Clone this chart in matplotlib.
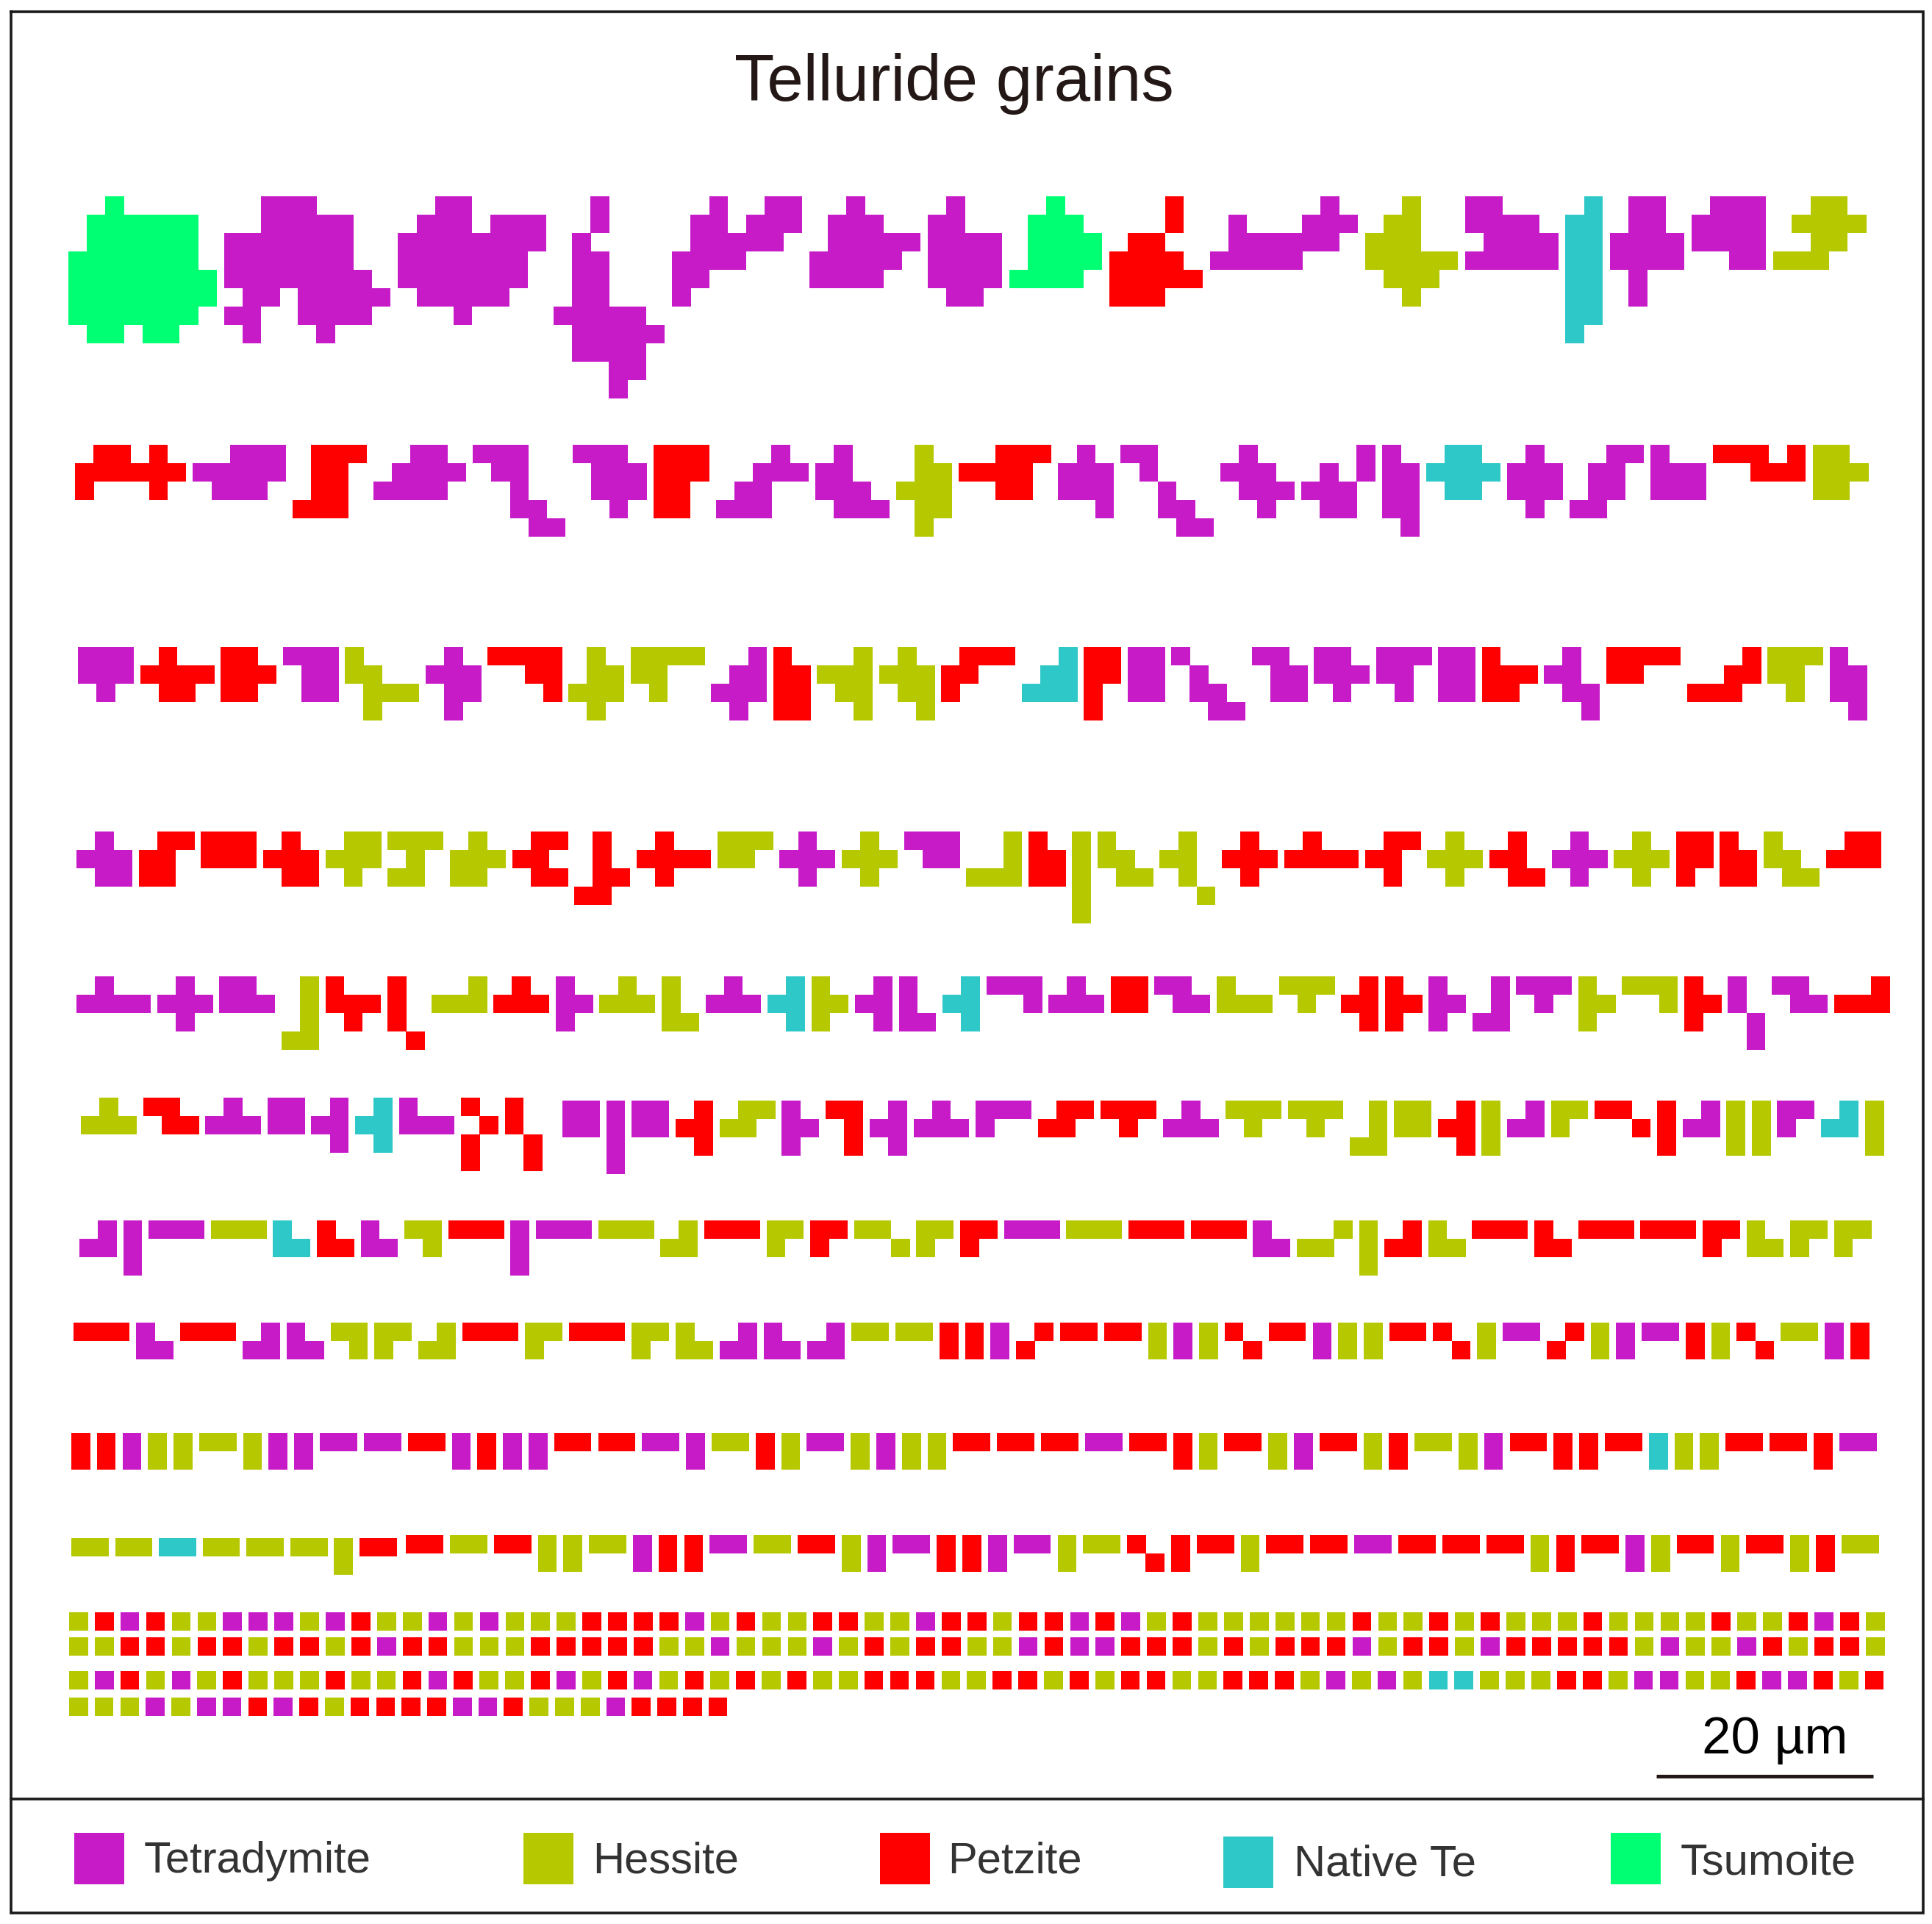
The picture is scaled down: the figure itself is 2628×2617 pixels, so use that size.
import matplotlib
matplotlib.use("Agg")
import matplotlib.pyplot as plt

plt.rcParams['font.family'] = ['Liberation Sans', 'DejaVu Sans']

TITLE = "Telluride grains"
SCALE_LABEL = "20 µm"
MINERALS = ["Tetradymite", "Hessite", "Petzite", "Native Te", "Tsumoite"]
MINERAL_KEYS = ["T", "H", "P", "N", "S"]

# each grain: mineral key, then its pixel map, rows split by "/"
ROW_01 = [
 "S:..#...../.######./.######./#######./########/########/#######./.##.##..",
 "T:..###..../..#####../#######../#######../########./.##.#####/##..####./.#...#...",
 "T:..##..../.###.###/########/#######./#######./.#####../...#....",
 "T:..#.../..#.../.#..../.##.../.##.../.##.../#####./.#####/.####./...##./...#..",
 "T:..#..##/.##.###/.#####./####.../##...../#......",
 "T:..#.../.###../.#####/#####./####..",
 "T:.#../##../####/####/####/.##.",
 "S:..#../.###./.####/.####/####.",
 "P:...#./...#./.##../####./#####/###..",
 "T:......#./.#...###/.######./#####...",
 "H:..#../.##../###../#####/.###./..#..",
 "T:##.../####./.####/#####",
 "N:.#/##/##/##/##/##/##/#.",
 "T:.##./.##./####/####/.#../.#..",
 "T:.###/####/####/..##",
 "H:..##./.####/..##./###..",
]
ROW_02 = [
 "P:.##.#./######/#...#.",
 "T:..###/#####/.###.",
 "P:.###/.##./.##./###.",
 "T:..##./.####/####.",
 "T:###../.##../..#../..##./...##",
 "T:###./.###/.###/..#.",
 "P:###/###/##./##.",
 "T:...#./..###/.##../###..",
 "T:.#../##../###./.###",
 "H:.#./.##/###/.##/.#.",
 "P:..###/####./..##.",
 "T:.#./###/###/..#",
 "T:##.../.#.../..#../..##./...##",
 "T:.#../###./.###/..#.",
 "T:...#/.#.#/###./.##.",
 "T:#./##/##/##/.#",
 "N:.##./####/.##.",
 "T:.#./###/###/.#.",
 "T:..##/.##./.##./##..",
 "T:#../###/###",
 "P:###.#/..###",
 "H:##./###/##.",
]
ROW_03 = [
 "T:###/###/.#.",
 "P:.#../####/.##.",
 "P:##./###/##.",
 "T:###/.##/.##",
 "H:#.../##../.###/.#..",
 "T:.#./###/.##/.#.",
 "P:####/..##/...#",
 "H:.#./.##/###/.#.",
 "H:####/##../.#..",
 "T:..#/.##/###/.#.",
 "P:#./##/##/##",
 "H:..#/###/.##/..#",
 "H:.#./###/.##/..#",
 "P:.###/##../#...",
 "N:..#/.##/###",
 "P:##/##/#./#.",
 "T:##/##/##",
 "T:#.../.#../.##./..##",
 "T:##./.##/.##",
 "T:##./###/.#.",
 "T:###/##./.#.",
 "T:##/##/##",
 "P:#../###/##.",
 "T:.#./##./.##/..#",
 "P:####/##..",
 "P:...#/..##/###.",
 "H:###/##./.#.",
 "T:#./##/##/.#",
]
ROW_04 = [
 "T:.#./###/.##",
 "P:.##/##./##.",
 "P:###/###",
 "P:.#./###/.##",
 "H:.##/###/.#.",
 "H:###/.#./##.",
 "H:.#./###/##.",
 "P:.##/##./.##",
 "P:.#./.#./.##/##.",
 "P:.#../####/.#..",
 "H:###/##.",
 "T:.#./###/.#.",
 "H:.#./###/.#.",
 "T:###/.##",
 "H:..#/..#/###",
 "P:#./##/##",
 "H:#/#/#/#/#",
 "H:#../##./.##",
 "H:.#./##./.#./..#",
 "P:.#./###/.#.",
 "P:.#../####",
 "P:.##/##./.#.",
 "H:.#./###/.#.",
 "P:.#./##./.##",
 "T:.#./###/.#.",
 "H:.#./###/.#.",
 "P:##/##/#.",
 "P:#./##/##",
 "H:#../##./.##",
 "P:.##/###",
]
ROW_05 = [
 "T:.#../####", "T:.#./###/.#.", "T:##./###", "H:.#/.#/.#/##", "P:#../###/.#.",
 "P:#./#./#./.#", "H:..#/###", "P:.#./###", "T:#./##/#.", "H:.#./###",
 "H:#./#./##", "T:.#./###", "N:.#/##/.#", "H:#./##/#.", "T:.#/##/.#",
 "T:#./#./##", "N:.#/##/.#", "T:###/..#", "T:.#./###", "P:##/##",
 "T:##./.##", "H:#../###", "H:###/.#.", "P:.#/##/.#", "P:#./##/#.",
 "T:#./##/#.", "T:.#/.#/##", "T:###/.#.", "H:#./##/#.", "H:###/..#",
 "P:#./##/#.", "T:#./#./.#/.#", "T:##./.##", "P:..#/###",
]
ROW_06_A = [
 "H:.#./###", "P:##./.##", "T:.#./###", "T:##/##", "T:.#/##/.#",
 "N:.#/##/.#", "T:#../###", "P:#./.#/#./#.", "P:#./#./.#/.#",
]
ROW_06_B = [
 "T:##/##", "T:#/#/#/#", "T:##/##", "P:.#/##/.#", "H:.##/##.",
 "T:#./##/#.", "P:##/.#/.#", "T:.#/##/.#", "T:.#./###", "T:###/#..",
 "P:.##/##.", "P:###/.#.", "T:.#./###", "H:###/.#.", "H:###/.#.",
 "H:.#/.#/##", "H:##/##", "P:.#/##/.#", "H:#/#/#", "T:.#/##",
 "H:##/#.", "P:##./..#", "P:#/#/#", "T:.#/##", "H:#/#/#",
 "H:#/#/#", "T:##/#.", "N:.#/##", "H:#/#/#",
]
ROW_07 = [
 "T:.#/##", "T:#/#/#", "T:###", "H:###", "N:#./##", "P:#./##", "T:#./##",
 "H:##/.#", "P:###", "T:#/#/#", "T:###", "H:###", "H:.#/##", "P:###",
 "H:##/#.", "P:##/#.", "H:##./..#", "H:##/#.", "P:##/#.", "T:###", "H:###",
 "P:###", "P:###", "T:#./##", "H:..#/##.", "H:#/#/#", "P:.#/##", "H:#./##",
 "P:###", "P:#./##", "P:###", "P:###", "P:##/#.", "H:#./##", "H:##/#.", "H:##/#.",
]
ROW_08 = [
 "P:###", "T:#./##", "P:###", "T:.#/##", "T:#./##", "H:##/.#", "H:##/#.",
 "H:.#/##", "P:###", "H:##/#.", "P:###", "H:##/#.", "H:#./##", "T:.#/##",
 "T:#./##", "T:.#/##", "H:##", "H:##", "P:#/#", "P:#/#", "T:#/#", "P:.#/#.",
 "P:##", "P:##", "H:#/#", "T:#/#", "H:#/#", "P:#./.#", "P:##", "T:#/#",
 "H:#/#", "H:#/#", "P:##", "P:#./.#", "H:#/#", "T:##", "P:.#/#.", "H:#/#",
 "T:#/#", "T:##", "P:#/#", "H:#/#", "P:#./.#", "H:##", "T:#/#", "P:#/#",
]
ROW_09 = [
 "P:#/#", "P:#/#", "T:#/#", "H:#/#", "H:#/#", "H:##", "H:#/#", "T:#/#", "T:#/#",
 "T:##", "T:##", "P:##", "T:#/#", "P:#/#", "T:#/#", "T:#/#", "P:##", "P:##",
 "T:##", "T:#/#", "H:##", "P:#/#", "H:#/#", "T:##", "H:#/#", "T:#/#", "H:#/#",
 "H:#/#", "P:##", "P:##", "P:##", "T:##", "P:##", "P:#/#", "H:#/#", "P:##",
 "H:#/#", "T:#/#", "P:##", "H:#/#", "P:#/#", "H:##", "H:#/#", "T:#/#", "P:##",
 "P:#/#", "P:#/#", "P:##", "N:#/#", "H:#/#", "H:#/#", "P:##", "P:##", "P:#/#", "T:##",
]
ROW_10_A = ["H:##", "H:##", "N:##", "H:##", "H:##", "H:##", "H:#/#", "P:##"]
ROW_10_B = [
 "P:##", "H:##", "P:##", "H:#/#", "H:#/#", "H:##", "T:#/#", "P:#/#", "P:#/#",
 "T:##", "H:##", "P:##", "H:#/#", "T:#/#", "T:##", "P:#/#", "P:#/#", "T:#/#",
 "T:##", "H:#/#", "H:##", "P:#./.#", "P:#/#", "P:##", "H:#/#", "P:##", "P:##",
 "T:##", "P:##", "P:##", "P:##", "H:#/#", "P:#/#", "P:##", "T:#/#", "H:#/#",
 "P:##", "H:#/#", "P:##", "H:#/#", "P:#/#", "H:##",
]
# single-pixel grains, one mineral key per grain
ROW_11 = "HPTPHHTTTHTPHHTHTHHHPPPPTHPHHPPHHTPPHPPTPTHPHHHHHHPHHPHPHHHPHHHHPHHPTPH"
ROW_12 = "HHPPHPPHPPHPTPPHHHPPPPPHHTHHHTHPHPPHHTPTTPPPHPHPPPTHPPHTPPPPPHTHHTPHPPH"
ROW_13 = "HTPHTHPHHHPHHPTPHHPTHPTHPHPHPHHPPPHHPPHPHPPHHPPPHTHTHNNHHHPPHTTHHPTTPHP"
ROW_14 = "HHHTHTTPTPHPPPPTTPHHHTPPPP"

# rendering layout, in reference pixels: grains, left edge, right edge, top edge
W, H = 2628, 2617
CELL_W, CELL_H = 25.15, 25.0
COLORS = {"T": "#C71BC8", "H": "#B5C800", "P": "#FF0000", "N": "#2FC8C8", "S": "#00FF73"}
SEGMENTS = [
    (ROW_01, 93, 2538, 267), (ROW_02, 102, 2541, 605), (ROW_03, 106, 2539, 880),
    (ROW_04, 104, 2559, 1131), (ROW_05, 104, 2570, 1328), (ROW_06_A, 110, 737, 1493),
    (ROW_06_B, 765, 2562, 1497), (ROW_07, 108, 2545, 1660), (ROW_08, 100, 2542, 1799),
    (ROW_09, 97, 2552, 1949), (ROW_10_A, 97, 539, 2092), (ROW_10_B, 552, 2555, 2088),
    ([k + ":#" for k in ROW_11], 94, 2563, 2193), ([k + ":#" for k in ROW_12], 94, 2563, 2227),
    ([k + ":#" for k in ROW_13], 94, 2562, 2273), ([k + ":#" for k in ROW_14], 94, 989, 2309),
]
LEGEND_BOXES = [(101, 2493, 68), (712, 2493, 68), (1197, 2493, 68), (1664, 2498, 68), (2191, 2493, 68)]
LEGEND_LABELS = [(196, 2547), (806, 2547), (1289, 2547), (1760, 2551), (2286, 2549)]

fig = plt.figure(figsize=(W / 100, H / 100), dpi=100, facecolor="white")
ax = fig.add_axes([0, 0, 1, 1])
ax.set_xlim(0, W)
ax.set_ylim(H, 0)
ax.axis("off")

cells = {k: ([], []) for k in MINERAL_KEYS}
for grains, left, right, top in SEGMENTS:
    widths = [len(g.split(":")[1].split("/")[0]) for g in grains]
    gap = (right - left - sum(widths) * CELL_W) / (len(grains) - 1)
    x = left
    for grain, width in zip(grains, widths):
        key, shape = grain.split(":")
        for r, line in enumerate(shape.split("/")):
            for c, ch in enumerate(line):
                if ch == "#":
                    cells[key][0].append(x + c * CELL_W)
                    cells[key][1].append(top + r * CELL_H)
        x += width * CELL_W + gap
for key, (xs, ys) in cells.items():
    if xs:
        ax.bar(xs, [CELL_H] * len(xs), width=CELL_W + 0.5, bottom=ys, align="edge",
               color=COLORS[key], linewidth=0, antialiased=False)

# frame and divider
line_col = "#1a1a1a"
ax.plot([15, 2616, 2616, 15, 15], [16, 16, 2602, 2602, 16], color=line_col, lw=2.6, solid_joinstyle="miter")
ax.plot([15, 2616], [2447, 2447], color=line_col, lw=2.6)

ax.text(1298, 137, TITLE, fontsize=64, color="#231815", ha="center", va="baseline")
ax.text(2414, 2385, SCALE_LABEL, fontsize=51, color="black", ha="center", va="baseline")
ax.plot([2253, 2548], [2415.5, 2415.5], color="#231815", lw=3.6, solid_capstyle="butt")

for name, key, (bx, by, bs), (tx, ty) in zip(MINERALS, MINERAL_KEYS, LEGEND_BOXES, LEGEND_LABELS):
    ax.bar([bx], [bs + 2], width=bs, bottom=[by], align="edge", color=COLORS[key], linewidth=0)
    ax.text(tx, ty, name, fontsize=43, color="#333333", ha="left", va="baseline")

fig.savefig("out.png", dpi=100, facecolor="white")
